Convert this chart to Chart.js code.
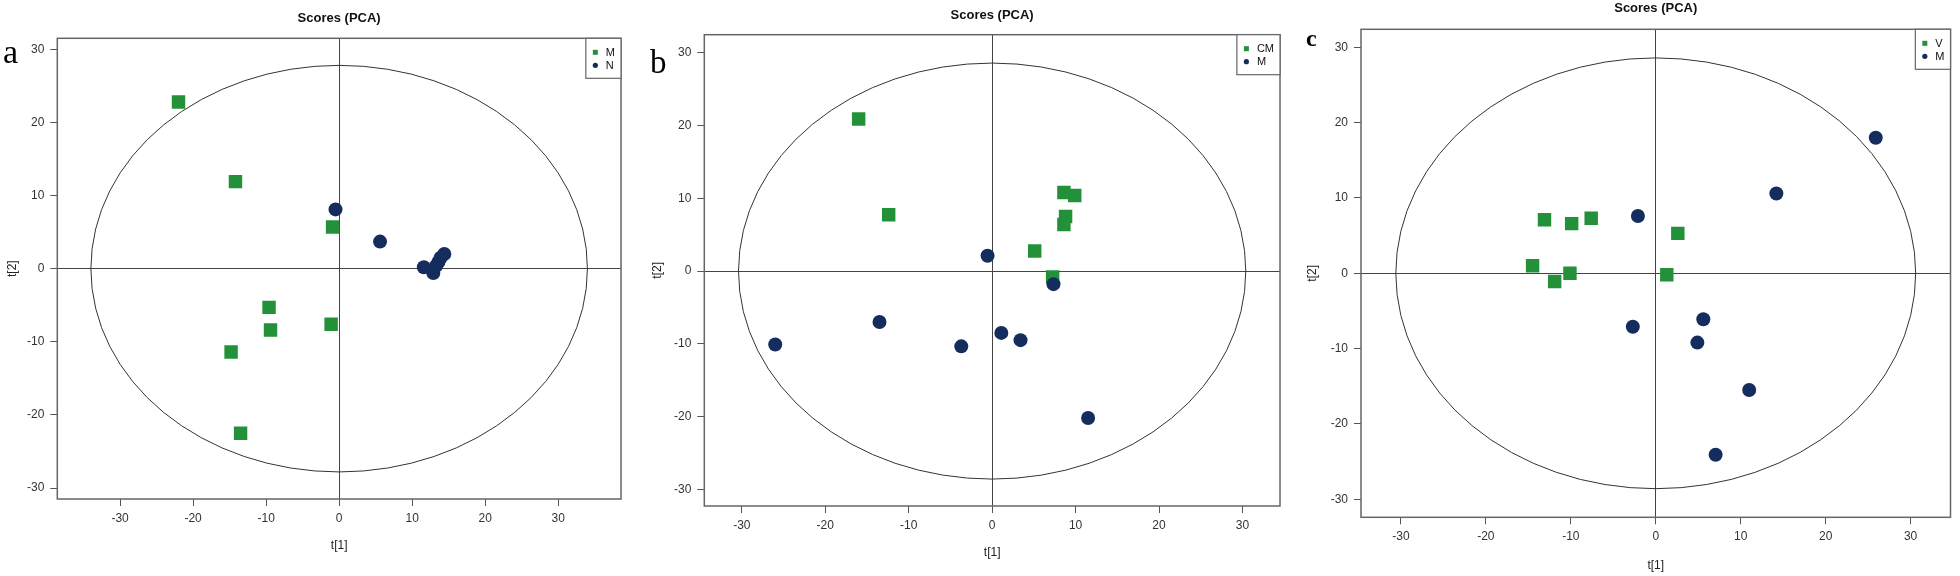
<!DOCTYPE html>
<html>
<head>
<meta charset="utf-8">
<script src="https://cdn.jsdelivr.net/npm/chart.js@4.4.1/dist/chart.umd.min.js"></script>
<style>
  html, body { margin: 0; padding: 0; background: #fff; }
  body { width: 1960px; height: 576px; position: relative; overflow: hidden; }
  .panel { position: absolute; top: 0; height: 576px; }
</style>
</head>
<body>
<div class="panel" style="left:0"><canvas id="chartA" width="650" height="576"></canvas></div>
<div class="panel" style="left:650px"><canvas id="chartB" width="650" height="576"></canvas></div>
<div class="panel" style="left:1300px"><canvas id="chartC" width="660" height="576"></canvas></div>
<script>
// panel a: M vs N
const aGroups = ['M', 'N'];
const aGreenX = [-22.0, -14.2, -0.9, -9.6, -9.4, -1.1, -14.8, -13.5];
const aGreenY = [22.8, 11.9, 5.7, -5.3, -8.4, -7.6, -11.4, -22.5];
const aBlueX = [-0.5, 5.6, 11.6, 12.9, 13.3, 13.6, 13.9, 14.4];
const aBlueY = [8.1, 3.7, 0.2, -0.6, 0.4, 0.9, 1.5, 2.0];

// panel b: CM vs M
const bGroups = ['CM', 'M'];
const bGreenX = [-16.0, -12.4, 8.6, 9.9, 8.8, 8.6, 5.1, 7.25];
const bGreenY = [20.9, 7.75, 10.8, 10.4, 7.5, 6.4, 2.75, -0.8];
const bBlueX = [-0.55, 7.35, -26.0, -13.5, -3.7, 1.1, 3.4, 11.5];
const bBlueY = [2.1, -1.8, -10.1, -7.0, -10.35, -8.5, -9.5, -20.2];

// panel c: V vs M
const cGroups = ['V', 'M'];
const cGreenX = [-13.1, -9.9, -7.6, 2.6, -14.5, -11.9, -10.1, 1.3];
const cGreenY = [7.1, 6.6, 7.3, 5.3, 1.0, -1.1, 0.0, -0.2];
const cBlueX = [-2.1, 14.2, 25.9, -2.7, 5.6, 4.9, 11.0, 7.05];
const cBlueY = [7.6, 10.6, 18.0, -7.1, -6.1, -9.2, -15.5, -24.1];

// Hotelling T2 ellipse semi axes [t1, t2]
const aEllipse = [34, 27.8];
const bEllipse = [30.4, 28.6];
const cEllipse = [30.6, 28.6];

const tickValues = [-30, -20, -10, 0, 10, 20, 30];

const GREEN = '#23903a';
const NAVY = '#152c5e';

Chart.defaults.font.family = '"Liberation Sans", Arial, sans-serif';
Chart.defaults.color = '#333';

function zip(xs, ys) {
  return xs.map((x, i) => ({x: x, y: ys[i]}));
}

const pcaDecor = {
  id: 'pcaDecor',
  beforeDatasetsDraw(chart, args, opts) {
    const {ctx, chartArea: ca, scales: {x, y}} = chart;
    ctx.save();
    ctx.beginPath();
    ctx.rect(ca.left, ca.top, ca.width, ca.height);
    ctx.clip();
    const cx = x.getPixelForValue(0);
    const cy = y.getPixelForValue(0);
    const rx = x.getPixelForValue(opts.ellipse[0]) - cx;
    const ry = cy - y.getPixelForValue(opts.ellipse[1]);
    ctx.beginPath();
    ctx.ellipse(cx, cy, rx, ry, 0, 0, Math.PI * 2);
    ctx.strokeStyle = '#333';
    ctx.lineWidth = 1;
    ctx.stroke();
    ctx.restore();
  },
  afterDraw(chart, args, opts) {
    const {ctx, chartArea: ca} = chart;
    ctx.save();
    // frame
    ctx.strokeStyle = '#666';
    ctx.lineWidth = 1.5;
    ctx.strokeRect(ca.left, ca.top, ca.width, ca.height);

    // title
    ctx.fillStyle = '#111';
    ctx.font = 'bold 13px "Liberation Sans", Arial, sans-serif';
    ctx.textAlign = 'center';
    ctx.textBaseline = 'middle';
    ctx.fillText('Scores (PCA)', (ca.left + ca.right) / 2, opts.titleY);

    // panel letter
    ctx.font = opts.letterFont;
    ctx.textAlign = 'left';
    ctx.textBaseline = 'alphabetic';
    ctx.fillStyle = '#000';
    ctx.fillText(opts.letter, opts.letterX, opts.letterY);

    // legend in the top right corner
    ctx.font = '11px "Liberation Sans", Arial, sans-serif';
    const sets = chart.data.datasets;
    const tw = Math.max(...sets.map(d => ctx.measureText(d.label).width));
    const w = 22 + tw + 4;
    const h = 40;
    const lx = ca.right - w;
    const ly = ca.top;
    ctx.fillStyle = '#fff';
    ctx.fillRect(lx, ly, w, h);
    ctx.strokeStyle = '#666';
    ctx.lineWidth = 1.2;
    ctx.strokeRect(lx, ly, w, h);
    ctx.textBaseline = 'middle';
    sets.forEach((d, i) => {
      const my = ly + 14 + i * 13;
      ctx.fillStyle = d.backgroundColor;
      if (d.pointStyle === 'rect') {
        ctx.fillRect(lx + 7, my - 2.5, 5, 5);
      } else {
        ctx.beginPath();
        ctx.arc(lx + 9.5, my, 2.6, 0, Math.PI * 2);
        ctx.fill();
      }
      ctx.fillStyle = '#111';
      ctx.fillText(d.label, lx + 20, my + 0.5);
    });
    ctx.restore();
  }
};

function makePanel(id, groups, gx, gy, nx, ny, ellipse, box, xr, yr, deco) {
  const canvas = document.getElementById(id);
  const W = canvas.width, H = canvas.height;
  return new Chart(canvas.getContext('2d'), {
    type: 'scatter',
    data: {
      datasets: [
        {
          label: groups[0],
          data: zip(gx, gy),
          pointStyle: 'rect',
          pointRadius: 9.5,
          backgroundColor: GREEN,
          borderColor: GREEN,
          borderWidth: 0,
          order: 2
        },
        {
          label: groups[1],
          data: zip(nx, ny),
          pointStyle: 'circle',
          pointRadius: 7,
          backgroundColor: NAVY,
          borderColor: NAVY,
          borderWidth: 0,
          order: 1
        }
      ]
    },
    options: {
      responsive: false,
      animation: false,
      events: [],
      layout: {padding: {left: 0, top: box.top, right: W - box.right, bottom: 0}},
      plugins: {
        legend: {display: false},
        tooltip: {enabled: false},
        pcaDecor: Object.assign({ellipse: ellipse}, deco)
      },
      scales: {
        x: {
          type: 'linear',
          min: -xr, max: xr,
          afterFit: s => { s.height = H - box.bottom; },
          afterBuildTicks: s => { s.ticks = tickValues.map(v => ({value: v})); },
          ticks: {padding: 5, color: '#333', font: {size: 12}},
          grid: {
            color: c => (c.tick && c.tick.value === 0 ? '#444' : 'rgba(0,0,0,0)'),
            tickColor: '#555',
            tickLength: 7,
            lineWidth: 1
          },
          border: {display: false},
          title: {display: true, text: 't[1]', color: '#222', font: {size: 12},
                  padding: {top: 0, bottom: deco.xTitlePad}}
        },
        y: {
          type: 'linear',
          min: yr[0], max: yr[1],
          afterFit: s => { s.width = box.left; },
          afterBuildTicks: s => { s.ticks = tickValues.map(v => ({value: v})); },
          ticks: {padding: 6, color: '#333', font: {size: 12}},
          grid: {
            color: c => (c.tick && c.tick.value === 0 ? '#444' : 'rgba(0,0,0,0)'),
            tickColor: '#555',
            tickLength: 7,
            lineWidth: 1
          },
          border: {display: false},
          title: {display: true, text: 't[2]', color: '#222', font: {size: 12},
                  padding: {top: deco.yTitlePad, bottom: 0}}
        }
      }
    },
    plugins: [pcaDecor]
  });
}

makePanel('chartA', aGroups, aGreenX, aGreenY, aBlueX, aBlueY, aEllipse,
  {left: 57.3, right: 621, top: 38.3, bottom: 499}, 38.6, [-31.5, 31.5],
  {titleY: 18.7, letter: 'a', letterX: 3, letterY: 63,
   letterFont: '34px "Liberation Serif", "Times New Roman", serif',
   xTitlePad: 23, yTitlePad: 5.5});

makePanel('chartB', bGroups, bGreenX, bGreenY, bBlueX, bBlueY, bEllipse,
  {left: 54.3, right: 630, top: 34.7, bottom: 506}, 34.5, [-32.3, 32.5],
  {titleY: 15.3, letter: 'b', letterX: 0, letterY: 72.5,
   letterFont: '33px "Liberation Serif", "Times New Roman", serif',
   xTitlePad: 15.8, yTitlePad: 0.4});

makePanel('chartC', cGroups, cGreenX, cGreenY, cBlueX, cBlueY, cEllipse,
  {left: 61, right: 657.6, top: 29.3, bottom: 517.3}, 34.7, [-32.4, 32.4],
  {titleY: 8.7, letter: 'c', letterX: 6, letterY: 46,
   letterFont: 'bold 24px "Liberation Serif", "Times New Roman", serif',
   xTitlePad: 2.8, yTitlePad: 5.4});
</script>
</body>
</html>
